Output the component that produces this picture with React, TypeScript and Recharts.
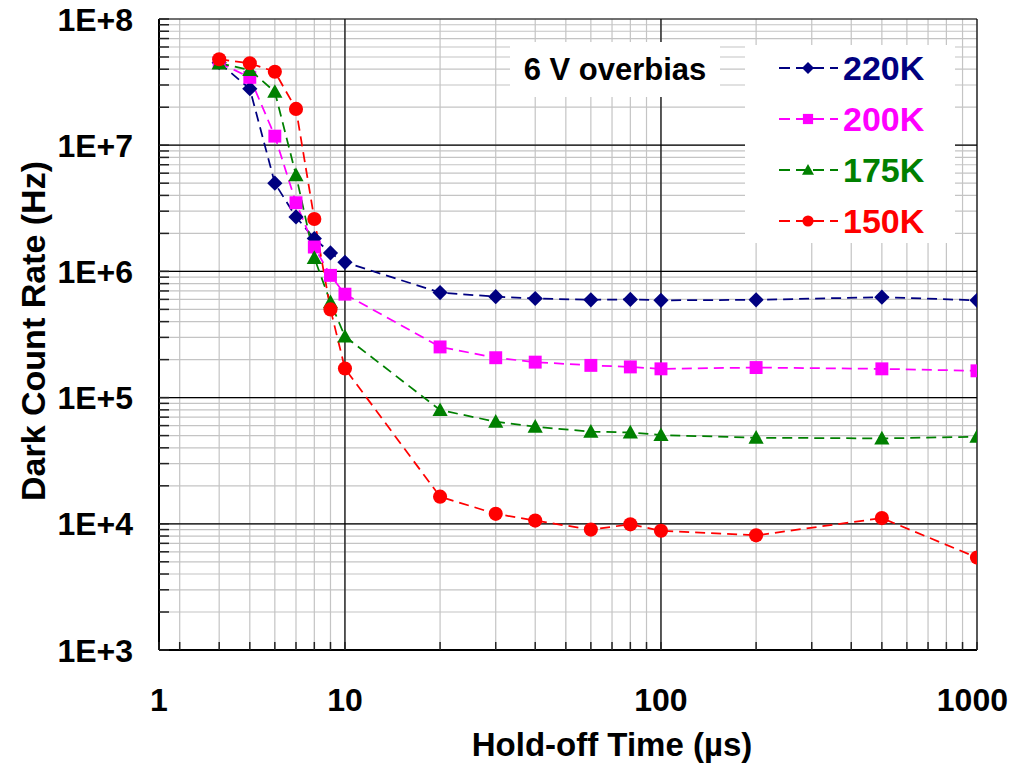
import { CartesianGrid, Legend, Line, LineChart, ReferenceLine, XAxis, YAxis } from "recharts";

// hold-off time (µs) and dark count rate (Hz) per temperature
const T_US = [4, 5, 6, 7, 8, 9, 10, 20, 30, 40, 60, 80, 100, 200, 500, 1000];
const DCR_220K = [4.5e7, 2.8e7, 5.0e6, 2.7e6, 1.82e6, 1.4e6, 1.18e6, 6.8e5, 6.3e5, 6.1e5, 5.95e5, 6.0e5, 5.9e5, 5.95e5, 6.25e5, 5.9e5];
const DCR_200K = [4.5e7, 3.45e7, 1.18e7, 3.5e6, 1.56e6, 9.3e5, 6.6e5, 2.52e5, 2.07e5, 1.91e5, 1.8e5, 1.75e5, 1.69e5, 1.73e5, 1.69e5, 1.63e5];
const DCR_175K = [4.45e7, 3.95e7, 2.65e7, 5.8e6, 1.28e6, 5.7e5, 3.05e5, 7.97e4, 6.44e4, 5.88e4, 5.37e4, 5.3e4, 5.05e4, 4.81e4, 4.75e4, 4.9e4];
const DCR_150K = [4.8e7, 4.46e7, 3.82e7, 1.94e7, 2.6e6, 5.0e5, 1.7e5, 1.64e4, 1.2e4, 1.06e4, 9.0e3, 9.9e3, 8.8e3, 8.1e3, 1.11e4, 5.4e3];

// axis: the plot starts a bit right of 1, but the "1" label sits on the left edge
const X_MIN = 2.58;
const X_MAJOR = [X_MIN, 10, 100, 1000];
const X_LABELS = ["1", "10", "100", "1000"];
const Y_MAJOR = [1e3, 1e4, 1e5, 1e6, 1e7, 1e8];
const Y_LABELS = ["1E+3", "1E+4", "1E+5", "1E+6", "1E+7", "1E+8"];

const SERIES = [
  { key: "k220", name: "220K", color: "#000080", shape: "diamond", values: DCR_220K },
  { key: "k200", name: "200K", color: "#ff00ff", shape: "square", values: DCR_200K },
  { key: "k175", name: "175K", color: "#008000", shape: "triangle", values: DCR_175K },
  { key: "k150", name: "150K", color: "#ff0000", shape: "circle", values: DCR_150K },
];

const data = T_US.map((t, i) => {
  const row: Record<string, number> = { t };
  SERIES.forEach((s) => (row[s.key] = s.values[i]));
  return row;
});

const minorTicks = (lo: number, hi: number) => {
  const out: number[] = [];
  for (let d = lo; d < hi; d *= 10) for (let k = 2; k < 10; k++) out.push(k * d);
  return out;
};
const xTicks = [X_MIN, ...minorTicks(1, 1000).filter((v) => v > X_MIN), 10, 100, 1000].sort((a, b) => a - b);
const yTicks = [...Y_MAJOR, ...minorTicks(1e3, 1e8)].sort((a, b) => a - b);

const FONT = "'Liberation Sans', Arial, sans-serif";
const X_TICK_MARGIN = 38;
const Y_TICK_MARGIN = 26;

function Marker({ shape, cx, cy, color, s }: { shape: string; cx: number; cy: number; color: string; s: number }) {
  if (shape === "diamond")
    return <polygon points={`${cx},${cy - s} ${cx + s},${cy} ${cx},${cy + s} ${cx - s},${cy}`} fill={color} />;
  if (shape === "square") return <rect x={cx - s * 0.85} y={cy - s * 0.85} width={s * 1.7} height={s * 1.7} fill={color} />;
  if (shape === "triangle")
    return <polygon points={`${cx},${cy - s} ${cx + s},${cy + s * 0.8} ${cx - s},${cy + s * 0.8}`} fill={color} />;
  return <circle cx={cx} cy={cy} r={s * 0.93} fill={color} />;
}

const makeDot = (shape: string, color: string) => (p: any) => {
  if (p.cx == null || p.cy == null) return <g key={p.key} />;
  return (
    <g key={p.key}>
      <Marker shape={shape} cx={p.cx} cy={p.cy} color={color} s={7.6} />
    </g>
  );
};

const XTick = (props: any) => {
  const { x, y, payload } = props;
  const i = X_MAJOR.indexOf(payload.value);
  const axisY = y - X_TICK_MARGIN;
  const last = i === X_MAJOR.length - 1;
  return (
    <g>
      <line x1={x} x2={x} y1={axisY} y2={axisY - 8} stroke="#222" strokeWidth={1.5} />
      {i >= 0 && (
        <text
          x={last ? 1008 : x}
          y={y}
          dy="0.71em"
          textAnchor={last ? "end" : "middle"}
          fontSize={32}
          fontWeight="bold"
          fontFamily={FONT}
          fill="#000"
        >
          {X_LABELS[i]}
        </text>
      )}
    </g>
  );
};

const YTick = (props: any) => {
  const { x, y, payload } = props;
  const i = Y_MAJOR.indexOf(payload.value);
  const axisX = x + Y_TICK_MARGIN;
  return (
    <g>
      <line x1={axisX} x2={axisX + 10} y1={y} y2={y} stroke="#222" strokeWidth={1.5} />
      {i >= 0 && (
        <text x={x} y={y} dy="0.36em" textAnchor="end" fontSize={32} fontWeight="bold" fontFamily={FONT} fill="#000">
          {Y_LABELS[i]}
        </text>
      )}
    </g>
  );
};

const renderLegend = () => (
  <div style={{ position: "relative", width: 210, height: 198, background: "#fff" }}>
    {SERIES.map((s, i) => (
      <div key={s.key} style={{ position: "absolute", left: 34, top: 23 + i * 51 - 20, height: 40, display: "flex", alignItems: "center" }}>
        <svg width={60} height={20} style={{ display: "block" }}>
          <line x1={0} x2={59} y1={10} y2={10} stroke={s.color} strokeWidth={2} strokeDasharray="11 6" />
          <Marker shape={s.shape} cx={29} cy={10} color={s.color} s={6} />
        </svg>
        <span style={{ marginLeft: 4, fontSize: 34, fontWeight: "bold", fontFamily: FONT, color: s.color, lineHeight: "40px" }}>
          {s.name}
        </span>
      </div>
    ))}
  </div>
);

export default function App() {
  return (
    <div style={{ position: "absolute", left: 0, top: 0, width: 1009, height: 764, background: "#fff", fontFamily: FONT }}>
      <LineChart width={1009} height={764} data={data} margin={{ top: 19, right: 32, bottom: 0, left: 0 }}>
        <CartesianGrid stroke="#c4c4c4" strokeWidth={1.2} />
        <XAxis
          dataKey="t"
          type="number"
          scale="log"
          domain={[X_MIN, 1000]}
          allowDataOverflow
          ticks={xTicks}
          interval={0}
          tick={<XTick />}
          tickSize={0}
          tickLine={false}
          tickMargin={X_TICK_MARGIN}
          height={114}
          axisLine={{ stroke: "#000", strokeWidth: 2 }}
          label={{
            content: () => (
              <text x={612} y={756} textAnchor="middle" fontSize={33} fontWeight="bold" fontFamily={FONT} fill="#000">
                Hold-off Time (µs)
              </text>
            ),
          }}
        />
        <YAxis
          type="number"
          scale="log"
          domain={[1e3, 1e8]}
          allowDataOverflow
          ticks={yTicks}
          interval={0}
          tick={<YTick />}
          tickSize={0}
          tickLine={false}
          tickMargin={Y_TICK_MARGIN}
          width={159}
          axisLine={{ stroke: "#000", strokeWidth: 2 }}
          label={{
            content: () => (
              <text
                x={33}
                y={331}
                transform="rotate(-90, 33, 331)"
                textAnchor="middle"
                dominantBaseline="central"
                fontSize={34}
                fontWeight="bold"
                fontFamily={FONT}
                fill="#000"
              >
                Dark Count Rate (Hz)
              </text>
            ),
          }}
        />
        {[10, 100, 1000].map((v) => (
          <ReferenceLine key={`x${v}`} x={v} stroke="#000" strokeWidth={1.2} />
        ))}
        {Y_MAJOR.slice(1).map((v) => (
          <ReferenceLine key={`y${v}`} y={v} stroke="#000" strokeWidth={1.2} />
        ))}
        <Legend
          layout="vertical"
          align="center"
          verticalAlign="middle"
          content={renderLegend}
          wrapperStyle={{ left: 745, top: 45, width: 210, height: 198 }}
        />
        {SERIES.map((s) => (
          <Line
            key={s.key}
            dataKey={s.key}
            name={s.name}
            stroke={s.color}
            strokeWidth={1.75}
            strokeDasharray="10 6"
            dot={makeDot(s.shape, s.color)}
            activeDot={false}
            isAnimationActive={false}
          />
        ))}
      </LineChart>
      <div
        style={{
          position: "absolute",
          left: 510,
          top: 42,
          width: 210,
          height: 55,
          background: "#fff",
          display: "flex",
          alignItems: "center",
          justifyContent: "center",
          fontSize: 31,
          fontWeight: "bold",
          fontFamily: FONT,
        }}
      >
        6 V overbias
      </div>
    </div>
  );
}
